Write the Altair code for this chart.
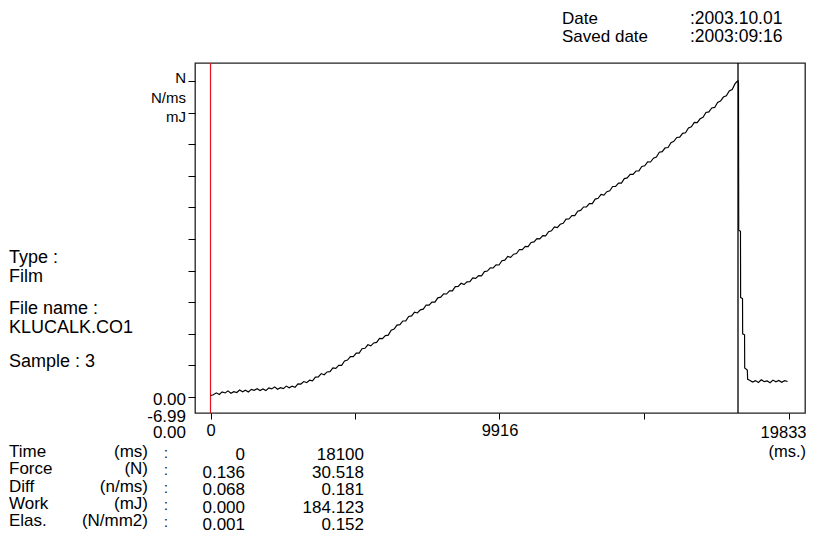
import altair as alt
import pandas as pd

# ---------------- data ----------------
time_ms = [
    0, 100, 200, 300, 400, 500, 600, 700, 800, 900,
    1000, 1100, 1200, 1300, 1400, 1500, 1600, 1700, 1800, 1900,
    2000, 2100, 2200, 2300, 2400, 2500, 2600, 2700, 2800, 2900,
    3000, 3100, 3200, 3300, 3400, 3500, 3600, 3700, 3800, 3900,
    4000, 4100, 4200, 4300, 4400, 4500, 4600, 4700, 4800, 4900,
    5000, 5100, 5200, 5300, 5400, 5500, 5600, 5700, 5800, 5900,
    6000, 6100, 6200, 6300, 6400, 6500, 6600, 6700, 6800, 6900,
    7000, 7100, 7200, 7300, 7400, 7500, 7600, 7700, 7800, 7900,
    8000, 8100, 8200, 8300, 8400, 8500, 8600, 8700, 8800, 8900,
    9000, 9100, 9200, 9300, 9400, 9500, 9600, 9700, 9800, 9900,
    10000, 10100, 10200, 10300, 10400, 10500, 10600, 10700, 10800, 10900,
    11000, 11100, 11200, 11300, 11400, 11500, 11600, 11700, 11800, 11900,
    12000, 12100, 12200, 12300, 12400, 12500, 12600, 12700, 12800, 12900,
    13000, 13100, 13200, 13300, 13400, 13500, 13600, 13700, 13800, 13900,
    14000, 14100, 14200, 14300, 14400, 14500, 14600, 14700, 14800, 14900,
    15000, 15100, 15200, 15300, 15400, 15500, 15600, 15700, 15800, 15900,
    16000, 16100, 16200, 16300, 16400, 16500, 16600, 16700, 16800, 16900,
    17000, 17100, 17200, 17300, 17400, 17500, 17600, 17700, 17800, 17900,
    18000, 18050, 18100, 18117, 18125, 18185, 18190, 18255, 18260, 18325,
    18330, 18420, 18430, 18500, 18600, 18700, 18800, 18900, 19000, 19100,
    19200, 19300, 19400, 19500, 19600, 19700, 19800,
]
force_n = [
    0.14, 0.22, 0.40, 0.24, 0.49, 0.39, 0.59, 0.36, 0.51, 0.43,
    0.67, 0.51, 0.66, 0.49, 0.74, 0.64, 0.80, 0.63, 0.78, 0.62,
    0.87, 0.78, 0.98, 0.75, 0.90, 0.81, 1.05, 0.89, 1.04, 0.94,
    1.27, 1.25, 1.49, 1.39, 1.62, 1.56, 1.92, 1.94, 2.26, 2.15,
    2.42, 2.45, 2.81, 2.77, 3.05, 3.05, 3.48, 3.56, 3.90, 3.90,
    4.23, 4.24, 4.66, 4.70, 5.04, 4.94, 5.22, 5.27, 5.65, 5.63,
    5.93, 5.97, 6.44, 6.56, 6.94, 6.98, 7.34, 7.35, 7.77, 7.83,
    8.19, 8.11, 8.41, 8.48, 8.88, 8.87, 9.17, 9.16, 9.57, 9.64,
    9.96, 9.94, 10.25, 10.24, 10.65, 10.67, 10.98, 10.85, 11.11, 11.14,
    11.49, 11.45, 11.72, 11.70, 12.10, 12.16, 12.47, 12.45, 12.75, 12.74,
    13.15, 13.21, 13.56, 13.48, 13.78, 13.85, 14.24, 14.23, 14.53, 14.51,
    14.92, 14.97, 15.29, 15.26, 15.57, 15.55, 15.96, 16.04, 16.41, 16.35,
    16.67, 16.76, 17.17, 17.18, 17.51, 17.50, 17.93, 18.01, 18.34, 18.34,
    18.67, 18.67, 19.10, 19.18, 19.55, 19.49, 19.82, 19.90, 20.32, 20.33,
    20.65, 20.65, 21.08, 21.15, 21.49, 21.49, 21.81, 21.82, 22.25, 22.32,
    22.70, 22.68, 23.05, 23.17, 23.63, 23.68, 24.05, 24.08, 24.55, 24.67,
    25.05, 25.08, 25.45, 25.50, 25.97, 26.08, 26.50, 26.48, 26.85, 26.99,
    27.46, 27.52, 27.90, 27.95, 28.43, 28.56, 28.95, 29.08, 29.54, 29.68,
    30.24, 30.40, 30.52, 30.30, 16.10, 16.00, 9.60, 9.50, 6.10, 6.00,
    2.80, 2.60, 1.70, 1.62, 1.45, 1.58, 1.40, 1.66, 1.48, 1.55,
    1.38, 1.63, 1.47, 1.60, 1.42, 1.57, 1.50,
]

x_tick_values = [0, 4958, 9916, 14875, 19833]
x_axis_labelled = [0, 9916]
x_end_label = [19833]
y_tick_values = [0, 3.05, 6.1, 9.15, 12.2, 15.25, 18.3, 21.35, 24.4, 27.45, 30.5]

start_marker_ms = [0]
break_marker_ms = [18100]

date_labels = ["Date", "Saved date"]
date_values = [":2003.10.01", ":2003:09:16"]
unit_labels = ["N", "N/ms", "mJ"]
scale_bottom_labels = ["0.00", "-6.99", "0.00"]
info_labels = ["Type :", "Film", "File name :", "KLUCALK.CO1", "Sample : 3"]
row_names = ["Time", "Force", "Diff", "Work", "Elas."]
row_units = ["(ms)", "(N)", "(n/ms)", "(mJ)", "(N/mm2)"]
col1_values = ["0", "0.136", "0.068", "0.000", "0.001"]
col2_values = ["18100", "30.518", "0.181", "184.123", "0.152"]
x_unit_label = "(ms.)"

# ---------------- chart ----------------
FONT = "Liberation Sans"
TICK_FS = 16.5

df = pd.DataFrame({"t": time_ms, "f": force_n})

x_scale = alt.Scale(domain=[-532, 20399], nice=False, zero=False)
y_scale = alt.Scale(domain=[-1.544, 32.237], nice=False, zero=False)

label_test = " || ".join(f"datum.value == {v}" for v in x_axis_labelled)

curve = alt.Chart(df).mark_line(color="black", strokeWidth=1.15, clip=True).encode(
    x=alt.X(
        "t:Q",
        scale=x_scale,
        axis=alt.Axis(
            values=x_tick_values,
            format="d",
            labelExpr=f"({label_test}) ? datum.label : ''",
            title=None,
            grid=False,
            domain=False,
            ticks=True,
            tickSize=6,
            tickColor="black",
            tickWidth=1,
            labelFont=FONT,
            labelFontSize=TICK_FS,
            labelColor="black",
            labelPadding=3,
            labelOverlap=False,
            labelFlush=False,
        ),
    ),
    y=alt.Y(
        "f:Q",
        scale=y_scale,
        axis=alt.Axis(
            values=y_tick_values,
            labels=False,
            title=None,
            grid=False,
            domain=False,
            ticks=True,
            tickSize=7,
            tickColor="black",
            tickWidth=1,
        ),
    ),
)

# last x tick label, placed at its tick through the x scale but kept inside the page
end_label = alt.Chart(pd.DataFrame({"t": x_end_label})).mark_text(
    align="right", baseline="middle", dx=18, font=FONT, fontSize=TICK_FS, color="black"
).encode(
    x=alt.X("t:Q", scale=x_scale),
    y=alt.value(370),
    text=alt.Text("t:Q", format="d"),
)

start_rule = alt.Chart(pd.DataFrame({"t": start_marker_ms})).mark_rule(
    color="#e8101a", strokeWidth=1.2
).encode(x=alt.X("t:Q", scale=x_scale))

break_rule = alt.Chart(pd.DataFrame({"t": break_marker_ms})).mark_rule(
    color="black", strokeWidth=1.3
).encode(x=alt.X("t:Q", scale=x_scale))


def txt(s, x, y, align="left", size=17):
    return alt.Chart(pd.DataFrame({"s": [s]})).mark_text(
        align=align, baseline="middle", font=FONT, fontSize=size, color="black"
    ).encode(text="s:N", x=alt.value(x), y=alt.value(y))


# plot area origin on page is (195, 63)
OX, OY = 195, 63
texts = []
for i, (lab, val) in enumerate(zip(date_labels, date_values)):
    texts.append(txt(lab, 562 - OX, 18.5 + 18 * i - OY, size=17))
    texts.append(txt(val, 690 - OX, 18.5 + 18 * i - OY, size=17.5))
for i, lab in enumerate(unit_labels):
    texts.append(txt(lab, 186 - OX, 78 + 19.5 * i - OY, align="right", size=15))
for i, lab in enumerate(scale_bottom_labels):
    texts.append(txt(lab, 186 - OX, 400 + 16.5 * i - OY, align="right", size=17))
info_y = [258, 277, 309, 328, 362]
for lab, yy in zip(info_labels, info_y):
    texts.append(txt(lab, 9 - OX, yy - OY, size=18))
for i in range(len(row_names)):
    ly = 452 + 17.3 * i - OY
    vy = 455 + 17.5 * i - OY
    texts.append(txt(row_names[i], 9 - OX, ly, size=17))
    texts.append(txt(row_units[i], 148 - OX, ly, align="right", size=17))
    texts.append(txt(":", 166 - OX, ly + 2, align="center", size=14))
    texts.append(txt(col1_values[i], 245 - OX, vy, align="right", size=17))
    texts.append(txt(col2_values[i], 364 - OX, vy, align="right", size=17))
texts.append(txt(x_unit_label, 806 - OX, 452 - OY, align="right", size=16.5))

chart = alt.layer(start_rule, curve, break_rule, end_label, *texts).properties(
    width=610,
    height=350,
    autosize=alt.AutoSizeParams(type="none"),
    padding={"left": 187, "top": 55, "right": 3, "bottom": 135},
    background="white",
).configure_view(stroke="#222222", strokeWidth=1.3)

chart.save("out.html", embed_options={"renderer": "svg", "actions": False})
